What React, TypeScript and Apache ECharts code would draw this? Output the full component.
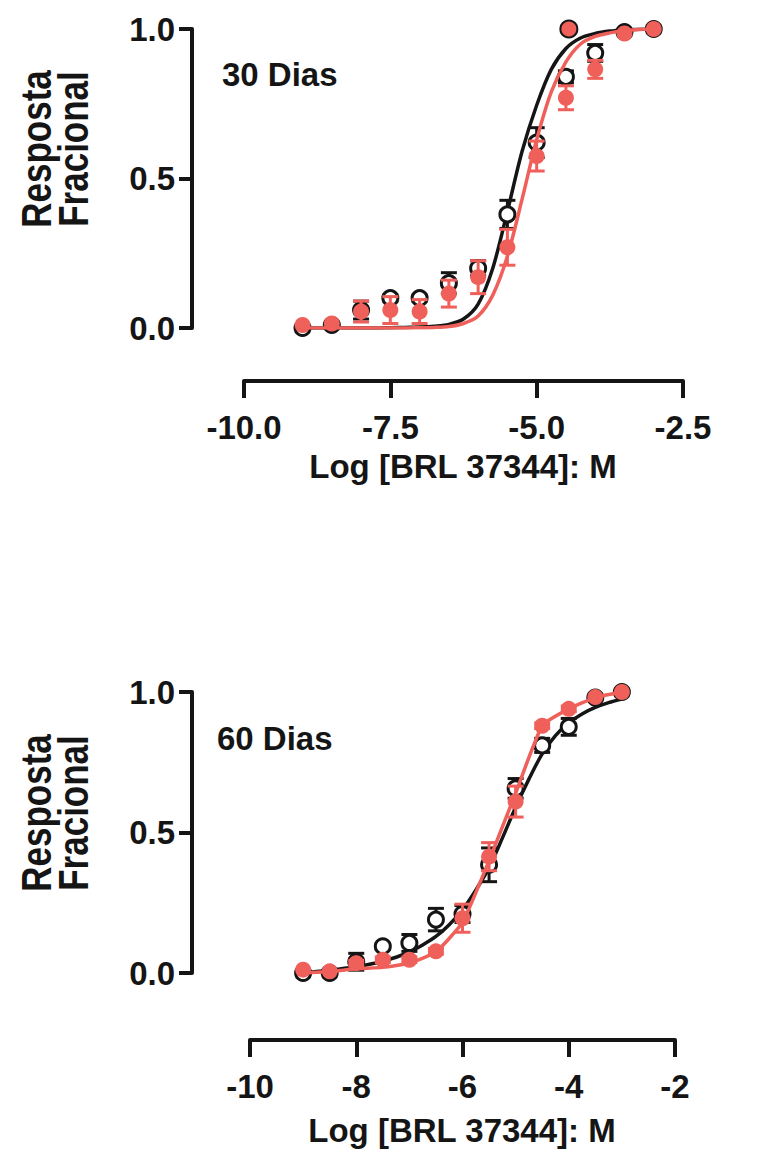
import React, { useEffect, useRef } from "react";
import * as echarts from "echarts";

// Log concentrations (M)
const doses = [-9, -8.5, -8, -7.5, -7, -6.5, -6, -5.5, -5, -4.5, -4, -3.5, -3];

// 30 Dias
const mean30Black = [0.0, 0.01, 0.06, 0.10, 0.10, 0.15, 0.20, 0.38, 0.62, 0.84, 0.92, 0.99, 1.0];
const sem30Black = [0, 0, 0.03, 0.01, 0.01, 0.035, 0.025, 0.047, 0.05, 0.02, 0.028, 0, 0];
const mean30Red = [0.01, 0.015, 0.055, 0.06, 0.055, 0.115, 0.17, 0.27, 0.575, 0.77, 0.865, 0.985, 1.0];
const sem30Red = [0, 0, 0.035, 0.045, 0.04, 0.045, 0.055, 0.06, 0.05, 0.04, 0.03, 0, 0];
const extra30X = [-4.45];
const extra30Y = [1.0];

// 60 Dias
const mean60Black = [0.0, 0.0, 0.04, 0.095, 0.107, 0.19, 0.21, 0.385, 0.657, 0.81, 0.876, 0.98, 1.0];
const sem60Black = [0, 0, 0.03, 0.01, 0.03, 0.04, 0.03, 0.06, 0.035, 0.025, 0.03, 0, 0];
const mean60Red = [0.012, 0.006, 0.035, 0.047, 0.047, 0.077, 0.195, 0.414, 0.61, 0.88, 0.94, 0.982, 1.0];
const sem60Red = [0, 0, 0.01, 0.01, 0.01, 0.01, 0.05, 0.05, 0.055, 0.01, 0.01, 0, 0];

// Fitted curves (x every 0.25 log unit)
const curveX = [-9, -8.75, -8.5, -8.25, -8, -7.75, -7.5, -7.25, -7, -6.75, -6.5, -6.25, -6, -5.75, -5.5, -5.25, -5, -4.75, -4.5, -4.25, -4, -3.75, -3.5, -3.25, -3];
const curve30Black = [0, 0, 0, 0, 0, 0, 0.001, 0.002, 0.003, 0.006, 0.012, 0.03, 0.08, 0.2, 0.39, 0.59, 0.745, 0.865, 0.935, 0.97, 0.985, 0.993, 0.997, 0.999, 1.0];
const curve30Red = [0, 0, 0, 0, 0, 0, 0, 0, 0.001, 0.002, 0.005, 0.015, 0.04, 0.11, 0.24, 0.43, 0.63, 0.79, 0.89, 0.95, 0.975, 0.987, 0.995, 0.998, 1.0];
const curve60Black = [0.0, 0.005, 0.01, 0.016, 0.022, 0.031, 0.042, 0.056, 0.075, 0.1, 0.13, 0.172, 0.225, 0.295, 0.375, 0.48, 0.59, 0.69, 0.78, 0.845, 0.89, 0.922, 0.945, 0.962, 0.975];
const curve60RedX = [-9, -8.5, -8, -7.5, -7, -6.5, -6, -5.5, -5, -4.5, -4, -3.5, -3];
const curve60Red = [0.0, 0.005, 0.015, 0.02, 0.035, 0.075, 0.18, 0.4, 0.64, 0.88, 0.94, 0.98, 1.0];

const xTicks30 = [-10, -7.5, -5, -2.5];
const xTicks60 = [-10, -8, -6, -4, -2];
const yTicks = [0, 0.5, 1];

const RED = "#f0605a";
const BLACK = "#151515";
const FONT = "'Liberation Sans', Arial, Helvetica, sans-serif";

const zip = (xs: number[], ys: number[]) => xs.map((x, i) => [x, ys[i]]);
const zip3 = (xs: number[], ys: number[], es: number[]) => xs.map((x, i) => [x, ys[i], es[i]]);

function errRender(color: string) {
  return (params: any, api: any) => {
    const x = api.value(0);
    const y = api.value(1);
    const e = api.value(2);
    if (!e) return { type: "group", children: [] };
    const hi = api.coord([x, y + e]);
    const lo = api.coord([x, y - e]);
    const w = 8;
    const style = { stroke: color, lineWidth: 3 };
    return {
      type: "group",
      children: [
        { type: "line", shape: { x1: hi[0], y1: hi[1], x2: lo[0], y2: lo[1] }, style },
        { type: "line", shape: { x1: hi[0] - w, y1: hi[1], x2: hi[0] + w, y2: hi[1] }, style },
        { type: "line", shape: { x1: lo[0] - w, y1: lo[1], x2: lo[0] + w, y2: lo[1] }, style },
      ],
    };
  };
}

function panelSeries(idx: number, mB: number[], sB: number[], mR: number[], sR: number[], cB: number[][], cR: number[][], redSmooth: number | boolean) {
  const ax = { xAxisIndex: idx, yAxisIndex: idx };
  return [
    { ...ax, type: "custom", renderItem: errRender(BLACK), data: zip3(doses, mB, sB), encode: { x: 0, y: 1 }, z: 2 },
    { ...ax, type: "line", data: cB, showSymbol: false, smooth: 0.3, lineStyle: { color: BLACK, width: 3.5 }, z: 3 },
    { ...ax, type: "scatter", data: zip(doses, mB), symbol: "circle", symbolSize: 15, itemStyle: { color: "#fff", borderColor: BLACK, borderWidth: 3, opacity: 1 }, z: 4 },
    { ...ax, type: "custom", renderItem: errRender(RED), data: zip3(doses, mR, sR), encode: { x: 0, y: 1 }, z: 5 },
    { ...ax, type: "line", data: cR, showSymbol: false, smooth: redSmooth, lineStyle: { color: RED, width: 3.5 }, z: 6 },
    { ...ax, type: "scatter", data: zip(doses, mR), symbol: "circle", symbolSize: 16, itemStyle: { color: RED, opacity: 1 }, z: 7 },
  ];
}

function xAxisOf(idx: number, ticks: number[], offset: number, digits: number) {
  return {
    gridIndex: idx,
    type: "value",
    min: ticks[0],
    max: ticks[ticks.length - 1],
    interval: ticks[1] - ticks[0],
    offset,
    axisLine: { show: true, onZero: false, lineStyle: { color: BLACK, width: 4 } },
    axisTick: { show: true, inside: false, length: 17, lineStyle: { color: BLACK, width: 4 } },
    axisLabel: { formatter: (v: number) => v.toFixed(digits), fontSize: 33, fontWeight: "bold", fontFamily: FONT, color: BLACK, margin: 30 },
    splitLine: { show: false },
  };
}

function yAxisOf(idx: number, offset: number) {
  return {
    gridIndex: idx,
    type: "value",
    min: yTicks[0],
    max: yTicks[yTicks.length - 1],
    interval: yTicks[1] - yTicks[0],
    offset,
    axisLine: { show: true, onZero: false, lineStyle: { color: BLACK, width: 4 } },
    axisTick: { show: true, inside: false, length: 13, lineStyle: { color: BLACK, width: 4 } },
    axisLabel: { formatter: (v: number) => v.toFixed(1), fontSize: 33, fontWeight: "bold", fontFamily: FONT, color: BLACK, margin: 17 },
    splitLine: { show: false },
  };
}

const textStyle = (text: string, size: number) => ({ text, fill: BLACK, font: `bold ${size}px ${FONT}` });

export default function App() {
  const ref = useRef<HTMLDivElement>(null);
  useEffect(() => {
    document.body.style.margin = "0";
    const chart = echarts.init(ref.current!, null, { renderer: "svg" });
    chart.setOption({
      animation: false,
      backgroundColor: "#fff",
      grid: [
        { left: 244, top: 29, width: 439, height: 299 },
        { left: 250, top: 692, width: 425, height: 281 },
      ],
      xAxis: [xAxisOf(0, xTicks30, 53, 1), xAxisOf(1, xTicks60, 67, 0)],
      yAxis: [yAxisOf(0, 52), yAxisOf(1, 58)],
      series: [
        ...panelSeries(0, mean30Black, sem30Black, mean30Red, sem30Red, zip(curveX, curve30Black), zip(curveX, curve30Red), 0.3),
        {
          xAxisIndex: 0, yAxisIndex: 0, type: "scatter", data: zip(extra30X, extra30Y), symbol: "circle", symbolSize: 17,
          itemStyle: { color: RED, borderColor: BLACK, borderWidth: 2, opacity: 1 }, z: 8,
        },
        ...panelSeries(1, mean60Black, sem60Black, mean60Red, sem60Red, zip(curveX, curve60Black), zip(curve60RedX, curve60Red), 0.15),
      ],
      graphic: [
        { type: "text", left: 222, top: 58, style: textStyle("30 Dias", 33) },
        { type: "text", left: 217, top: 722, style: textStyle("60 Dias", 33) },
        { type: "text", x: 463, y: 466, style: { ...textStyle("Log [BRL 37344]: M", 33), align: "center", verticalAlign: "middle" } },
        { type: "text", x: 462, y: 1130, style: { ...textStyle("Log [BRL 37344]: M", 33), align: "center", verticalAlign: "middle" } },
        { type: "text", x: 36, y: 149, rotation: Math.PI / 2, scaleY: 1.2, style: { ...textStyle("Resposta", 35), align: "center", verticalAlign: "middle" } },
        { type: "text", x: 73, y: 149, rotation: Math.PI / 2, scaleY: 1.2, style: { ...textStyle("Fracional", 35), align: "center", verticalAlign: "middle" } },
        { type: "text", x: 36, y: 813, rotation: Math.PI / 2, scaleY: 1.2, style: { ...textStyle("Resposta", 35), align: "center", verticalAlign: "middle" } },
        { type: "text", x: 73, y: 813, rotation: Math.PI / 2, scaleY: 1.2, style: { ...textStyle("Fracional", 35), align: "center", verticalAlign: "middle" } },
      ],
    });
    return () => chart.dispose();
  }, []);
  return <div ref={ref} style={{ width: 761, height: 1155 }} />;
}
